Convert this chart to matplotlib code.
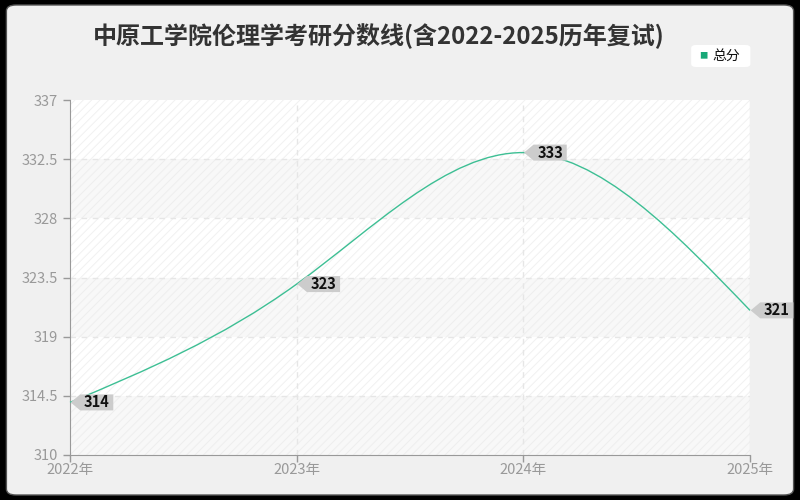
import numpy as np
import matplotlib.pyplot as plt
from matplotlib.path import Path
from matplotlib.patches import PathPatch, FancyBboxPatch

plt.rcParams['font.family'] = ['Noto Sans CJK SC', 'DejaVu Sans']
plt.rcParams['hatch.linewidth'] = 0.7

# Data
years = [2022, 2023, 2024, 2025]
year_labels = ['2022年', '2023年', '2024年', '2025年']
scores = [314, 323, 333, 321]
y_ticks = [310, 314.5, 319, 323.5, 328, 332.5, 337]
title = '中原工学院伦理学考研分数线(含2022-2025历年复试)'

line_color = '#3dbf94'


def tag_box(x0, y0, width, height, mutation_size):
    # label box with a pointed left side
    ext = 0.25 * mutation_size
    x0 -= ext
    width += 2 * ext
    tip = height * 0.6
    verts = [(x0 - tip, y0 + height / 2), (x0, y0 + height), (x0 + width, y0 + height),
             (x0 + width, y0), (x0, y0), (x0 - tip, y0 + height / 2)]
    codes = [Path.MOVETO] + [Path.LINETO] * 4 + [Path.CLOSEPOLY]
    return Path(verts, codes)


fig = plt.figure(figsize=(8, 5), dpi=100)
fig.patch.set_facecolor('black')
panel = FancyBboxPatch((0.008, 0.01), 0.984, 0.98, boxstyle='round,pad=0,rounding_size=0.012',
                       transform=fig.transFigure, facecolor='#f0f0f0', edgecolor='#555555',
                       linewidth=1.0, zorder=-5)
fig.add_artist(panel)

ax = fig.add_axes([0.0875, 0.09, 0.85, 0.71])
ax.set_facecolor('white')
ax.set_xlim(2022, 2025)
ax.set_ylim(310, 337)

# alternating hatched bands
for k in range(len(y_ticks) - 1):
    lo, hi = y_ticks[k], y_ticks[k + 1]
    if k % 2 == 0:
        ax.axhspan(lo, hi, facecolor='#f8f8f8', edgecolor='#eeeeee', hatch='////',
                   linewidth=0, zorder=0)
    else:
        ax.axhspan(lo, hi, facecolor='white', edgecolor='#f1f1f1', hatch='////',
                   linewidth=0, zorder=0)

# grid
for yv in y_ticks[1:-1]:
    ax.axhline(yv, color='#e6e6e6', linestyle=(0, (4, 4)), linewidth=1, zorder=1)
for xv in years[1:-1]:
    ax.axvline(xv, color='#e6e6e6', linestyle=(0, (4, 4)), linewidth=1, zorder=1)
ax.axvline(years[-1], color='#e6e6e6', linewidth=1, zorder=1)

# smooth curve: natural cubic spline written as bezier segments
xs = np.array(years, dtype=float)
ys = np.array(scores, dtype=float)
n = len(xs)
h = np.diff(xs)
A = np.zeros((n, n))
b = np.zeros(n)
A[0, 0] = A[-1, -1] = 1
for i in range(1, n - 1):
    A[i, i - 1] = h[i - 1]
    A[i, i] = 2 * (h[i - 1] + h[i])
    A[i, i + 1] = h[i]
    b[i] = 6 * ((ys[i + 1] - ys[i]) / h[i] - (ys[i] - ys[i - 1]) / h[i - 1])
M = np.linalg.solve(A, b)
verts = [(xs[0], ys[0])]
codes = [Path.MOVETO]
for i in range(n - 1):
    sec = (ys[i + 1] - ys[i]) / h[i]
    s0 = sec - h[i] * (2 * M[i] + M[i + 1]) / 6
    s1 = sec + h[i] * (M[i] + 2 * M[i + 1]) / 6
    verts += [(xs[i] + h[i] / 3, ys[i] + s0 * h[i] / 3),
              (xs[i + 1] - h[i] / 3, ys[i + 1] - s1 * h[i] / 3),
              (xs[i + 1], ys[i + 1])]
    codes += [Path.CURVE4] * 3
ax.add_patch(PathPatch(Path(verts, codes), facecolor='none', edgecolor=line_color,
                       linewidth=1, zorder=3, clip_on=False))

# value labels
for x, y in zip(years, scores):
    ax.annotate(str(y), (x, y), xytext=(10, 0), textcoords='offset points',
                ha='left', va='center', fontsize=10.5, fontweight='bold', color='#111111',
                bbox=dict(boxstyle=tag_box, facecolor='#cccccc', edgecolor='none', pad=0.1),
                zorder=5, annotation_clip=False)

ax.set_xticks(years)
ax.set_xticklabels(year_labels)
ax.set_yticks(y_ticks)
ax.set_yticklabels([f'{v:g}' for v in y_ticks])
ax.tick_params(axis='both', colors='#999999', labelsize=10.5, length=5, width=1)
ax.tick_params(axis='x', pad=1)
for s in ['top', 'right']:
    ax.spines[s].set_visible(False)
for s in ['left', 'bottom']:
    ax.spines[s].set_color('#999999')

fig.text(0.474, 0.928, title, ha='center', va='center', fontsize=17.3,
         fontweight='bold', color='#333333')

# legend
leg_box = FancyBboxPatch((0.864, 0.866), 0.074, 0.044, boxstyle='round,pad=0,rounding_size=0.006',
                         transform=fig.transFigure, facecolor='white', edgecolor='none', zorder=1)
fig.add_artist(leg_box)
fig.text(0.879, 0.888, '■', fontsize=6, color='#18a878', ha='center', va='center')
fig.text(0.89, 0.889, '总分', fontsize=10, color='#111111', ha='left', va='center')

fig.savefig('out.png', dpi=100, facecolor=fig.get_facecolor())
